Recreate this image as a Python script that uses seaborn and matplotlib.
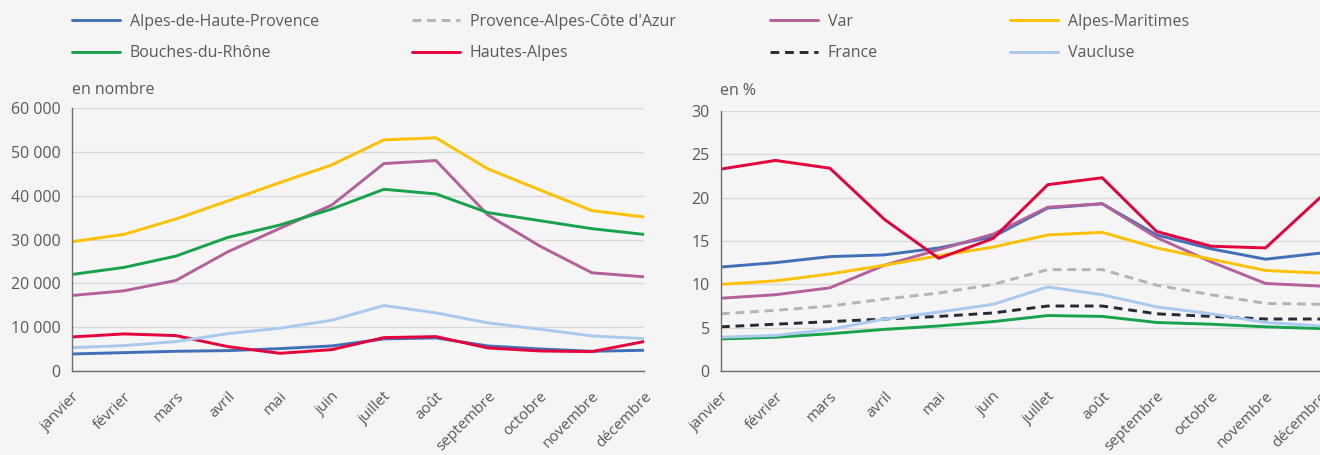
import pandas as pd
import matplotlib.pyplot as plt
import seaborn as sns

mois = ["janvier", "février", "mars", "avril", "mai", "juin", "juillet",
        "août", "septembre", "octobre", "novembre", "décembre"]

zones = ["Alpes-de-Haute-Provence", "Provence-Alpes-Côte d'Azur", "Var",
         "Alpes-Maritimes", "Bouches-du-Rhône", "Hautes-Alpes", "France",
         "Vaucluse"]

couleurs = ["#4170B8", "#B4B4B4", "#B3609B", "#FFC000",
            "#17A24B", "#E5003B", "#262A36", "#A9C9EE"]
tirets = ["", (3, 2), "", "", "", "", (3, 2), ""]

# en nombre (départements seulement)
nb_adhp = [3890, 4190, 4500, 4650, 5110, 5720, 7320, 7550, 5720, 5030, 4500, 4730]
nb_var = [17230, 18290, 20660, 27210, 32540, 37880, 47330, 48020, 35590, 28500, 22410, 21490]
nb_am = [29500, 31170, 34680, 38800, 42990, 47030, 52740, 53200, 46110, 41310, 36590, 35140]
nb_bdr = [22030, 23630, 26220, 30490, 33310, 36970, 41460, 40400, 36130, 34300, 32470, 31170]
nb_ha = [7770, 8460, 8080, 5560, 4040, 4880, 7620, 7850, 5260, 4570, 4420, 6710]
nb_vau = [5340, 5790, 6710, 8540, 9760, 11590, 14940, 13260, 10980, 9530, 8000, 7390]

# en %
pct_adhp = [12.0, 12.5, 13.2, 13.4, 14.2, 15.5, 18.8, 19.3, 15.7, 14.1, 12.9, 13.6]
pct_paca = [6.6, 7.0, 7.5, 8.3, 9.0, 10.0, 11.7, 11.7, 9.9, 8.8, 7.8, 7.7]
pct_var = [8.4, 8.8, 9.6, 12.2, 14.0, 15.8, 18.9, 19.3, 15.4, 12.6, 10.1, 9.8]
pct_am = [10.0, 10.4, 11.2, 12.2, 13.3, 14.3, 15.7, 16.0, 14.2, 12.9, 11.6, 11.3]
pct_bdr = [3.7, 3.9, 4.3, 4.8, 5.2, 5.7, 6.4, 6.3, 5.6, 5.4, 5.1, 4.9]
pct_ha = [23.3, 24.3, 23.4, 17.5, 13.0, 15.3, 21.5, 22.3, 16.1, 14.4, 14.2, 20.0]
pct_fr = [5.1, 5.4, 5.7, 6.0, 6.3, 6.7, 7.5, 7.5, 6.6, 6.3, 6.0, 6.0]
pct_vau = [3.9, 4.1, 4.8, 6.0, 6.8, 7.7, 9.7, 8.8, 7.4, 6.6, 5.6, 5.2]

series_nb = {zones[0]: nb_adhp, zones[2]: nb_var, zones[3]: nb_am,
             zones[4]: nb_bdr, zones[5]: nb_ha, zones[7]: nb_vau}
series_pct = {zones[0]: pct_adhp, zones[1]: pct_paca, zones[2]: pct_var,
              zones[3]: pct_am, zones[4]: pct_bdr, zones[5]: pct_ha,
              zones[6]: pct_fr, zones[7]: pct_vau}


def to_long(series):
    rows = []
    for z, vals in series.items():
        for i, v in enumerate(vals):
            rows.append({"zone": z, "x": i, "valeur": v})
    return pd.DataFrame(rows)


sns.set_theme(style="whitegrid")
plt.rcParams["font.family"] = ["Open Sans", "DejaVu Sans"]

fond = "#F5F5F5"
gris_txt = "#595959"
palette = dict(zip(zones, couleurs))
dashes = dict(zip(zones, tirets))

fig = plt.figure(figsize=(13.2, 4.55), dpi=100, facecolor=fond)
ax1 = fig.add_axes([0.0545, 0.1846, 0.4333, 0.578])
ax2 = fig.add_axes([0.5462, 0.1846, 0.4538, 0.5714])


def trace(ax, series, ymax, ystep, fmt):
    ordre = [z for z in zones if z in series]
    sns.lineplot(data=to_long(series), x="x", y="valeur", hue="zone",
                 style="zone", hue_order=ordre, style_order=ordre,
                 palette=palette, dashes=dashes, linewidth=2.1, ax=ax)
    ax.set_facecolor(fond)
    ax.set_xlim(0, 11)
    ax.set_ylim(0, ymax)
    ax.set_yticks(range(0, ymax + 1, ystep))
    ax.set_yticklabels([fmt(v) for v in range(0, ymax + 1, ystep)])
    ax.set_xticks(range(12))
    ax.set_xticklabels(mois, rotation=45, ha="right", rotation_mode="anchor")
    ax.set_xlabel("")
    ax.set_ylabel("")
    ax.grid(axis="x", visible=False)
    ax.grid(axis="y", color="#D9D9D9", linewidth=1)
    for s in ["top", "right"]:
        ax.spines[s].set_visible(False)
    for s in ["left", "bottom"]:
        ax.spines[s].set_color("#6E6E6E")
        ax.spines[s].set_linewidth(1)
    ax.tick_params(axis="y", length=0, pad=8, labelsize=11.5, labelcolor=gris_txt)
    ax.tick_params(axis="x", length=0, pad=13, labelsize=11, labelcolor=gris_txt)
    h, l = ax.get_legend_handles_labels()
    ax.legend_.remove()
    return dict(zip(l, h))


trace(ax1, series_nb, 60000, 10000, lambda v: f"{v:,}".replace(",", " "))
poignees = trace(ax2, series_pct, 30, 5, lambda v: str(v))

fig.text(0.0545, 0.802, "en nombre", fontsize=11.5, color=gris_txt, va="center")
fig.text(0.5455, 0.800, "en %", fontsize=11.5, color=gris_txt, va="center")

# legende en 4 colonnes placees a la main
colonnes = [(zones[0], zones[4]), (zones[1], zones[5]),
            (zones[2], zones[6]), (zones[3], zones[7])]
xs = [72, 412, 770, 1010]
for x, col in zip(xs, colonnes):
    leg = fig.legend([poignees[c] for c in col], list(col), loc="upper left",
                     bbox_to_anchor=(x / 1320, 1 - 14 / 455), frameon=False,
                     borderpad=0, borderaxespad=0, handlelength=3.0,
                     handletextpad=0.6, labelspacing=0.95, fontsize=11.5)
    for t in leg.get_texts():
        t.set_color(gris_txt)

fig.savefig("out.png", dpi=100, facecolor=fond)
